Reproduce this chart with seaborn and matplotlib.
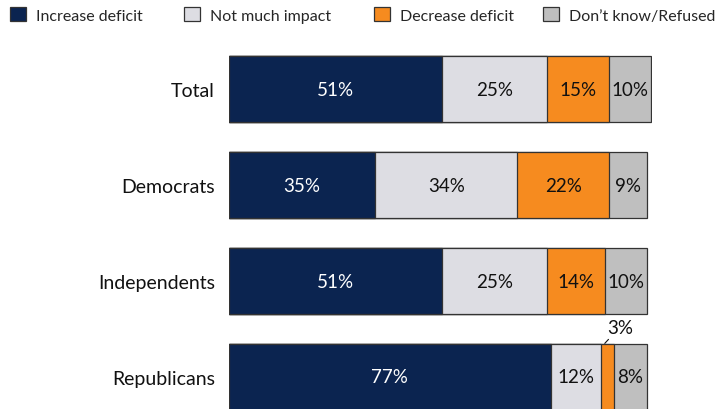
import numpy as np
import pandas as pd
import seaborn as sns
import matplotlib.pyplot as plt
from matplotlib.patches import Patch

groups = ['Total', 'Democrats', 'Independents', 'Republicans']
series = ['Increase deficit', 'Not much impact', 'Decrease deficit', 'Don\u2019t know/Refused']
increase = [51, 35, 51, 77]
not_much = [25, 34, 25, 12]
decrease = [15, 22, 14, 3]
dont_know = [10, 9, 10, 8]
colors = ['#0b2450', '#dddde3', '#f68b1f', '#bfbfbf']
text_colors = ['white', '#111111', '#111111', '#111111']

sns.set_theme(style='white')
plt.rcParams['font.family'] = ['Lato', 'DejaVu Sans']

values = np.array([increase, not_much, decrease, dont_know])
cum = values.cumsum(axis=0)

fig = plt.figure(figsize=(7.21, 4.10), dpi=100)
# axes placed in pixels: left 229, right 652, top 42, 96 px per bar slot
ax = fig.add_axes([229 / 721, (410 - 426) / 410, 423 / 721, 384 / 410])

# stacked bars: draw the cumulative totals from the widest down
for i in reversed(range(len(series))):
    df = pd.DataFrame({'group': groups, 'value': cum[i]})
    sns.barplot(data=df, x='value', y='group', orient='h', color=colors[i],
                width=0.69, edgecolor='#333333', linewidth=0.9, ax=ax,
                saturation=1)

for j, g in enumerate(groups):
    for i in range(len(series)):
        v = values[i, j]
        mid = cum[i, j] - v / 2
        if v < 5:
            ax.annotate(f'{v}%', xy=(mid - 0.6, j - 0.35), xytext=(mid + 3, j - 0.52),
                        ha='center', va='center', fontsize=13.5, color='#111111',
                        arrowprops=dict(arrowstyle='-', color='#111111', lw=0.8,
                                        shrinkA=0.5, shrinkB=0),
                        annotation_clip=False)
        else:
            ax.text(mid, j, f'{v}%', ha='center', va='center', fontsize=13.5,
                    color=text_colors[i])

ax.set_xlim(0, 101.2)
ax.set_ylim(3.5, -0.5)
ax.set_xlabel(None)
ax.set_ylabel(None)
ax.set_xticks([])
ax.tick_params(axis='y', length=0, pad=10, labelsize=14, labelcolor='#111111')
sns.despine(ax=ax, left=True, bottom=True)

# one legend entry per series, placed along the top like the original
legend_x = [10, 184, 374, 543]
for c, name, x in zip(colors, series, legend_x):
    h = Patch(facecolor=c, edgecolor='#333333', linewidth=0.9)
    fig.legend([h], [name], loc='center left', bbox_to_anchor=(x / 721, 1 - 16 / 410),
               frameon=False, fontsize=11.5, handlelength=1.0, handleheight=1.0,
               handletextpad=0.6, borderpad=0, borderaxespad=0)

fig.savefig('out.png', dpi=100)
